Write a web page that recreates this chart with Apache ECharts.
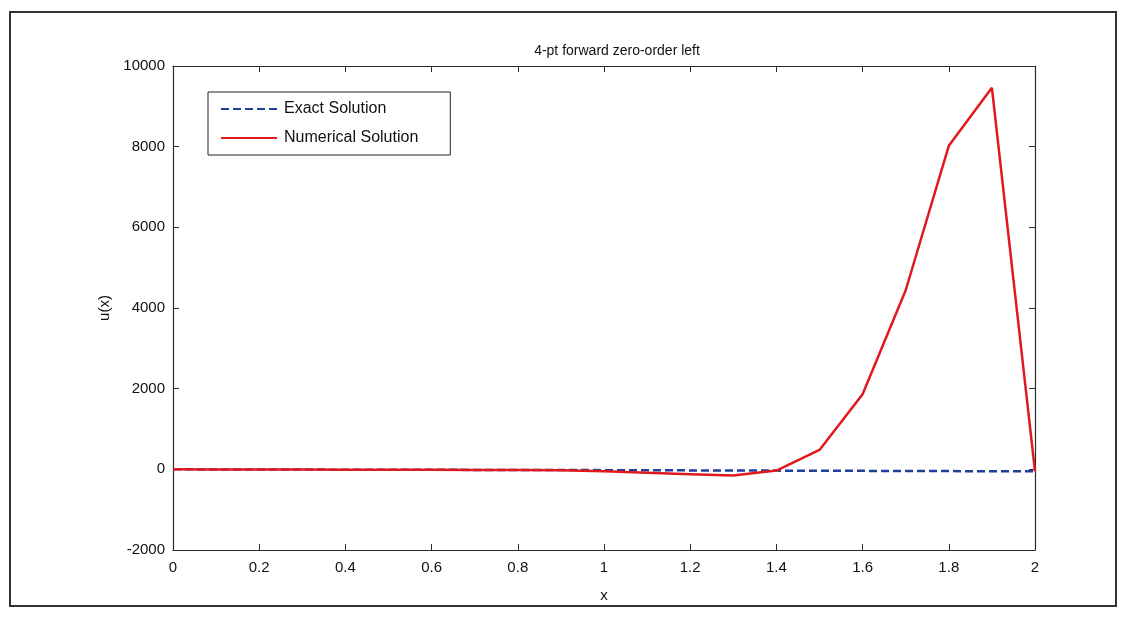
<!DOCTYPE html>
<html>
<head>
<meta charset="utf-8">
<style>
  html, body { margin: 0; padding: 0; background: #fff; }
  #chart { width: 1124px; height: 623px; }
</style>
<script src="https://cdn.jsdelivr.net/npm/echarts@6/dist/echarts.min.js"></script>
</head>
<body>
<div id="chart"></div>
<script>
// Grid points and solution values
const xValues = [0, 0.1, 0.2, 0.3, 0.4, 0.5, 0.6, 0.7, 0.8, 0.9, 1.0,
                 1.1, 1.2, 1.3, 1.4, 1.5, 1.6, 1.7, 1.8, 1.9, 2.0];
const exactValues = [0, -2, -4, -6, -8, -10, -12, -14, -16, -18, -20,
                     -23, -26, -29, -32, -35, -38, -41, -44, -47, -50];
const numericalValues = [0, -2, -4, -6, -8, -10, -12, -14, -16, -20, -50,
                         -85, -120, -155, -30, 480, 1860, 4440, 8020, 9460, -50];
const xTicks = { min: 0, max: 2, step: 0.2 };
const yTicks = { min: -2000, max: 10000, step: 2000 };

const pairs = (xs, ys) => xs.map((x, i) => [x, ys[i]]);

const axisColor = '#2b2b2b';
const font = 'Liberation Sans, Arial, Helvetica, sans-serif';

const chart = echarts.init(document.getElementById('chart'), null, { renderer: 'canvas' });

const baseX = {
  type: 'value', min: xTicks.min, max: xTicks.max, interval: xTicks.step,
  axisLine: { show: true, onZero: false, lineStyle: { color: axisColor, width: 1.2 } },
  axisTick: { show: true, inside: true, length: 6, lineStyle: { color: axisColor } },
  splitLine: { show: false }
};
const baseY = {
  type: 'value', min: yTicks.min, max: yTicks.max, interval: yTicks.step,
  axisLine: { show: true, onZero: false, lineStyle: { color: axisColor, width: 1.2 } },
  axisTick: { show: true, inside: true, length: 6, lineStyle: { color: axisColor } },
  splitLine: { show: false }
};

chart.setOption({
  animation: false,
  backgroundColor: '#ffffff',
  title: {
    text: '4-pt forward zero-order left',
    left: 612, top: 39, textAlign: 'center',
    textStyle: { fontFamily: font, fontSize: 14, fontWeight: 'normal', color: '#111' }
  },
  grid: { left: 173, right: 89, top: 66, bottom: 73 },
  legend: {
    left: 208, top: 92,
    orient: 'vertical',
    itemWidth: 56, itemHeight: 14, itemGap: 13,
    padding: [9, 32, 9, 12],
    backgroundColor: '#fff',
    borderColor: '#222', borderWidth: 1,
    itemStyle: { opacity: 0 },
    textStyle: { fontFamily: font, fontSize: 16, color: '#111', padding: [0, 0, 0, 2] },
    data: ['Exact Solution', 'Numerical Solution']
  },
  xAxis: [
    Object.assign({}, baseX, {
      position: 'bottom',
      name: 'x', nameLocation: 'middle', nameGap: 38,
      nameTextStyle: { fontFamily: font, fontSize: 15, color: '#111' },
      axisLabel: { fontFamily: font, fontSize: 15, color: '#111', margin: 10 }
    }),
    Object.assign({}, baseX, { position: 'top', axisLabel: { show: false } })
  ],
  yAxis: [
    Object.assign({}, baseY, {
      position: 'left',
      name: 'u(x)', nameLocation: 'middle', nameGap: 44, nameRotate: 90,
      nameTextStyle: { fontFamily: font, fontSize: 15, color: '#111' },
      axisLabel: {
        fontFamily: font, fontSize: 15, color: '#111', margin: 8,
        formatter: (v) => String(v)
      }
    }),
    Object.assign({}, baseY, { position: 'right', axisLabel: { show: false } })
  ],
  series: [
    {
      name: 'Exact Solution', type: 'line', xAxisIndex: 0, yAxisIndex: 0,
      data: pairs(xValues, exactValues),
      symbol: 'none', z: 2,
      lineStyle: { color: '#1f3f9a', width: 2.5, type: [8, 4] },
      itemStyle: { color: '#1f3f9a' }
    },
    {
      name: 'Numerical Solution', type: 'line', xAxisIndex: 0, yAxisIndex: 0,
      data: pairs(xValues, numericalValues),
      symbol: 'none', z: 3,
      lineStyle: { color: '#e0191e', width: 2.5 },
      itemStyle: { color: '#e0191e' }
    }
  ],
  graphic: [
    {
      type: 'rect', silent: true, z: -1,
      shape: { x: 10, y: 12, width: 1106, height: 594 },
      style: { fill: 'none', stroke: '#333', lineWidth: 2 }
    }
  ]
});
</script>
</body>
</html>
